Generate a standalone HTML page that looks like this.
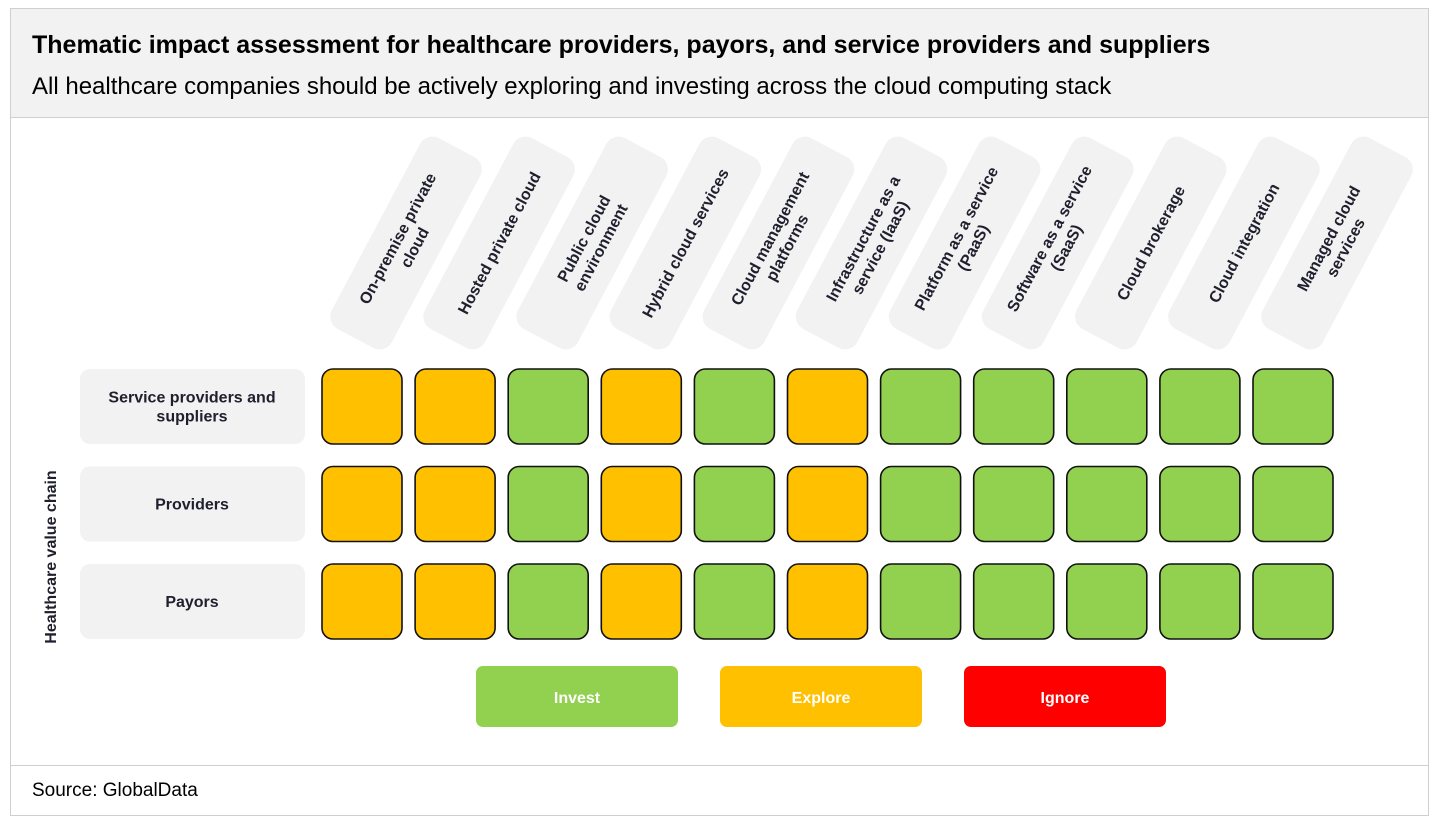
<!DOCTYPE html>
<html><head><meta charset="utf-8"><style>
body{margin:0;width:1440px;height:825px;background:#fff;overflow:hidden;font-family:"Liberation Sans",sans-serif}
#frame{position:absolute;left:10px;top:8px;width:1419px;height:808px;border:1px solid #cfcfcf;box-sizing:border-box}
#hdr{position:absolute;left:0;top:0;width:100%;height:108px;background:#f2f2f2;border-bottom:1px solid #cfcfcf}
#title{position:absolute;left:21px;top:22px;font-family:"Liberation Sans",sans-serif;font-weight:bold;font-size:25px;color:#000}
#sub{position:absolute;left:21px;top:64px;font-size:24px;color:#000}
#foot{position:absolute;left:0;top:756px;width:100%;border-top:1px solid #cfcfcf}
#src{position:absolute;left:21px;top:771px;font-size:19px}
svg{position:absolute;left:0;top:0}
</style></head><body>
<div id="frame">
<div id="hdr">
<div id="title">Thematic impact assessment for healthcare providers, payors, and service providers and suppliers</div>
<div id="sub">All healthcare companies should be actively exploring and investing across the cloud computing stack</div>
</div>
<div id="foot"></div>
<div id="src">Source: GlobalData</div>
</div>
<svg id="chart" width="1440" height="825"></svg>
<script>
const categories=[["On-premise private","cloud"],["Hosted private cloud"],["Public cloud","environment"],["Hybrid cloud services"],["Cloud management","platforms"],["Infrastructure as a","service (IaaS)"],["Platform as a service","(PaaS)"],["Software as a service","(SaaS)"],["Cloud brokerage"],["Cloud integration"],["Managed cloud","services"]];
const rows=[["Service providers and","suppliers"],["Providers"],["Payors"]];
const rowValues=[
["Explore","Explore","Invest","Explore","Invest","Explore","Invest","Invest","Invest","Invest","Invest"],
["Explore","Explore","Invest","Explore","Invest","Explore","Invest","Invest","Invest","Invest","Invest"],
["Explore","Explore","Invest","Explore","Invest","Explore","Invest","Invest","Invest","Invest","Invest"]];
const legendLabels=["Invest","Explore","Ignore"];
const colors={Invest:"#92d050",Explore:"#ffc000",Ignore:"#ff0000"};
const NS="http://www.w3.org/2000/svg",svg=document.getElementById('chart');
function el(t,a,p){const e=document.createElementNS(NS,t);for(const k in a)e.setAttribute(k,a[k]);(p||svg).appendChild(e);return e;}
const x0=322,colStep=93.1,cw=80,y0=369,rowStep=97.5,ch=75;
const xCol=i=>x0+i*colStep, yRow=j=>y0+j*rowStep;
function addText(g,lines,cx,cy,size,extra){
  const t=el('text',Object.assign({x:cx,y:cy,'text-anchor':'middle','font-size':size,'font-weight':'bold',fill:'#1f1f2e','font-family':'Liberation Sans, sans-serif'},extra||{}),g);
  const n=lines.length;
  lines.forEach((s,k)=>{const ts=el('tspan',{x:cx,y:cy+(k-(n-1)/2)*size*1.2+size*0.35},t);ts.textContent=s;});
  return t;
}
categories.forEach((c,i)=>{
  const cx=xCol(i)+cw/2+44,cy=243;
  const g=el('g',{transform:`rotate(-62 ${cx} ${cy})`});
  
  
  el('rect',{x:cx-108,y:cy-34,width:216,height:68,rx:14,fill:'#f2f2f2'},g);
  addText(g,c,cx,cy,16);
});
rows.forEach((r,j)=>{
  const g=el('g',{});
  
  
  el('rect',{x:80,y:yRow(j),width:225,height:ch,rx:10,fill:'#f2f2f2'},g);
  addText(g,r,192,yRow(j)+ch/2,16);
  rowValues[j].forEach((v,i)=>{
    const c=el('rect',{x:xCol(i),y:yRow(j),width:cw,height:ch,rx:11,fill:colors[v],stroke:'#111','stroke-width':1.6});
    
    
  });
});
const yt=el('text',{x:56,y:557,'text-anchor':'middle','font-size':16,'font-weight':'bold',fill:'#1f1f2e',transform:'rotate(-90 56 557)'});
yt.textContent='Healthcare value chain';

legendLabels.forEach((l,k)=>{
  const g=el('g',{});
  
  
  const lx=476+k*244;
  el('rect',{x:lx,y:666,width:202,height:61,rx:7,fill:colors[l]},g);
  const t=el('text',{x:lx+101,y:703,'text-anchor':'middle','font-size':16,'font-weight':'bold',fill:'#fff'},g);
  t.textContent=l;
});
</script>
</body></html>
